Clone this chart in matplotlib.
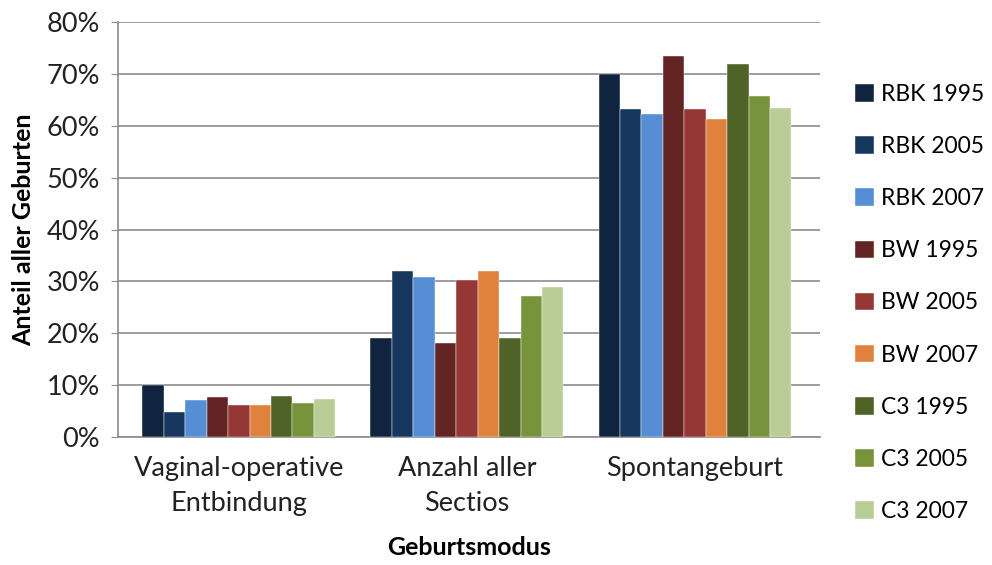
import numpy as np
import matplotlib
matplotlib.use("Agg")
from matplotlib import pyplot as plt
from matplotlib.ticker import PercentFormatter

plt.rcParams["font.family"] = ["Lato", "DejaVu Sans"]

# ----------------------------------------------------
# Data (percent of all births)
# ----------------------------------------------------
categories = ["Vaginal-operative\nEntbindung", "Anzahl aller\nSectios", "Spontangeburt"]
series_names = ["RBK 1995", "RBK 2005", "RBK 2007",
                "BW 1995", "BW 2005", "BW 2007",
                "C3 1995", "C3 2005", "C3 2007"]
rbk_1995 = [10.0, 19.0, 70.0]
rbk_2005 = [4.8, 32.1, 63.3]
rbk_2007 = [7.2, 30.9, 62.2]
bw_1995 = [7.7, 18.1, 73.5]
bw_2005 = [6.1, 30.3, 63.3]
bw_2007 = [6.1, 32.1, 61.4]
c3_1995 = [8.0, 19.0, 71.9]
c3_2005 = [6.6, 27.2, 65.8]
c3_2007 = [7.4, 29.0, 63.5]
values = [rbk_1995, rbk_2005, rbk_2007, bw_1995, bw_2005, bw_2007,
          c3_1995, c3_2005, c3_2007]

colors = ["#10243F", "#17375E", "#558ED5",
          "#632523", "#953735", "#E0823D",
          "#4F6228", "#77933C", "#B9CD96"]

# ----------------------------------------------------
# Plot
# ----------------------------------------------------
fig = plt.figure(figsize=(9.92, 5.65), dpi=100)
ax = fig.add_axes([0.119, 0.2265, 0.708, 0.7345])

x = np.arange(len(categories))
n = len(series_names)
bar_w = 0.846 / n
for i, (name, vals, col) in enumerate(zip(series_names, values, colors)):
    offset = (i - (n - 1) / 2) * bar_w
    ax.bar(x + offset, vals, width=bar_w, color=col, label=name,
           edgecolor="white", linewidth=0.3, zorder=3)

ax.set_xlim(-0.53, 2.55)
ax.set_ylim(0, 80)
ax.set_yticks(np.arange(0, 81, 10))
ax.yaxis.set_major_formatter(PercentFormatter(decimals=0))
ax.grid(axis="y", color="#8C8C8C", linewidth=1.2, zorder=0)
ax.set_xticks(x)
ax.set_xticklabels(categories, fontsize=19.5, color="#222222", linespacing=1.5)
ax.tick_params(axis="x", length=0, pad=14)
ax.tick_params(axis="y", labelsize=19.5, labelcolor="#222222", length=5,
               color="#8C8C8C", pad=8)
for side in ["top", "right"]:
    ax.spines[side].set_visible(False)
for side in ["left", "bottom"]:
    ax.spines[side].set_color("#8C8C8C")
    ax.spines[side].set_linewidth(1.2)

ax.set_ylabel("Anteil aller Geburten", fontsize=18, fontweight="bold", labelpad=8)
ax.set_xlabel("Geburtsmodus", fontsize=18, fontweight="bold", labelpad=14)

fig.legend(loc="upper left", bbox_to_anchor=(0.853, 0.868), frameon=False,
           fontsize=16.5, handlelength=0.8, handleheight=0.8, handletextpad=0.3,
           labelspacing=1.36, borderaxespad=0)

fig.savefig("out.png", dpi=100)
